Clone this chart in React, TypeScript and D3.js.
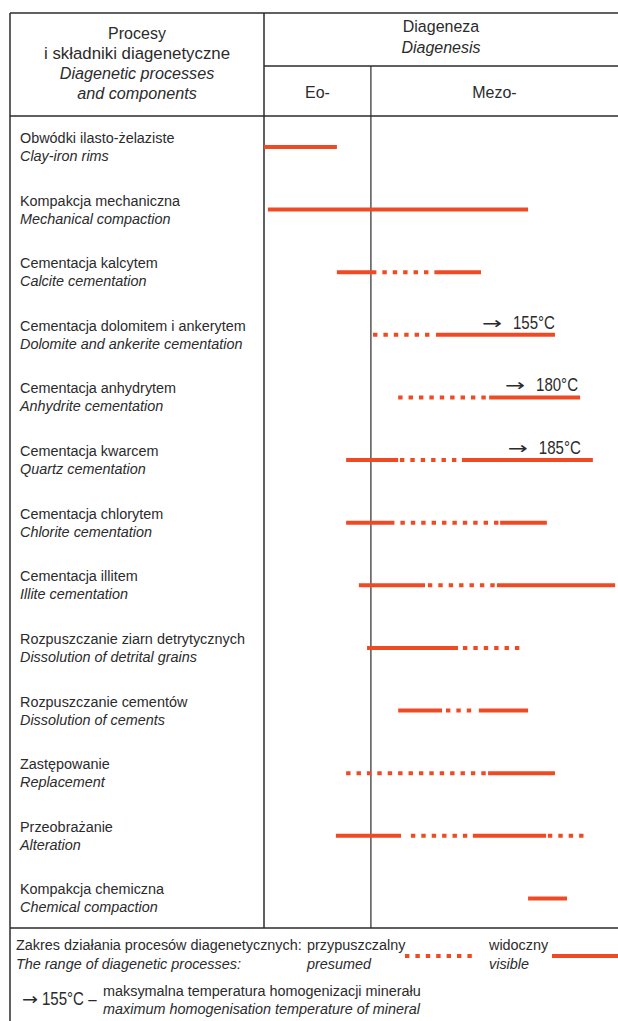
import React from "react";
import * as d3 from "d3";

const labelsPl = [
  "Obwódki ilasto-żelaziste",
  "Kompakcja mechaniczna",
  "Cementacja kalcytem",
  "Cementacja dolomitem i ankerytem",
  "Cementacja anhydrytem",
  "Cementacja kwarcem",
  "Cementacja chlorytem",
  "Cementacja illitem",
  "Rozpuszczanie ziarn detrytycznych",
  "Rozpuszczanie cementów",
  "Zastępowanie",
  "Przeobrażanie",
  "Kompakcja chemiczna",
];
const labelsEn = [
  "Clay-iron rims",
  "Mechanical compaction",
  "Calcite cementation",
  "Dolomite and ankerite cementation",
  "Anhydrite cementation",
  "Quartz cementation",
  "Chlorite cementation",
  "Illite cementation",
  "Dissolution of detrital grains",
  "Dissolution of cements",
  "Replacement",
  "Alteration",
  "Chemical compaction",
];
// segments: [start, end, type] in % of diagenesis span; s = visible, p = presumed
type Seg = [number, number, "s" | "p"];
const segments: Seg[][] = [
  [[0, 20.6, "s"]],
  [[1.1, 74.6, "s"]],
  [[20.6, 30.5, "s"], [30.5, 48.6, "p"], [48.6, 61.3, "s"]],
  [[30.8, 47.5, "p"], [48.6, 82.2, "s"]],
  [[37.9, 63.0, "p"], [63.6, 89.3, "s"]],
  [[23.2, 37.9, "s"], [38.4, 54.8, "p"], [55.9, 92.9, "s"]],
  [[23.2, 35.6, "s"], [35.6, 66.7, "p"], [66.7, 79.9, "s"]],
  [[26.8, 45.5, "s"], [46.3, 65.3, "p"], [65.8, 99.2, "s"]],
  [[29.1, 54.8, "s"], [56.2, 72.6, "p"]],
  [[37.9, 50.3, "s"], [51.4, 59.9, "p"], [60.7, 74.6, "s"]],
  [[23.2, 63.3, "p"], [63.3, 82.2, "s"]],
  [[20.3, 38.7, "s"], [41.5, 59.0, "p"], [59.0, 79.7, "s"], [80.2, 91.5, "p"]],
  [[74.6, 85.6, "s"]],
];
const tempRows = [3, 4, 5];
const tempLabels = ["155°C", "180°C", "185°C"];
const tempEnds = [82.2, 88.7, 89.5];
const eoMezoBoundary = 30.2;

const RED = "#f04a24";
const INK = "#2b2b2b";
const FONT = "'Liberation Sans', Arial, sans-serif";
const SX = 0.93;

function T(props: {
  x: number;
  y: number;
  size: number;
  italic?: boolean;
  anchor?: "start" | "middle" | "end";
  sx?: number;
  children: React.ReactNode;
  family?: string;
}) {
  const sx = props.sx ?? SX;
  return (
    <text
      transform={`translate(${props.x},${props.y}) scale(${sx},1)`}
      fontSize={props.size}
      fontStyle={props.italic ? "italic" : "normal"}
      textAnchor={props.anchor ?? "start"}
      fill={INK}
      fontFamily={props.family ?? FONT}
    >
      {props.children}
    </text>
  );
}

function Arrow(props: { x: number; y: number; w: number }) {
  // long thin arrow as a text glyph, stretched to the wanted width
  const glyphW = 0.838 * 17;
  return (
    <text
      transform={`translate(${props.x},${props.y}) scale(${props.w / glyphW},1)`}
      fontSize={17}
      fill={INK}
      fontFamily="'DejaVu Sans', sans-serif"
    >
      →
    </text>
  );
}

export default function App() {
  const W = 618;
  const H = 1021;
  const left = 10;
  const colX = 264;
  const top = 13;
  const headMid = 66;
  const headBot = 116;
  const bodyBot = 928;

  const x = d3.scaleLinear().domain([0, 100]).range([colX, 618]);
  const y = d3
    .scaleBand<number>()
    .domain(d3.range(labelsPl.length))
    .range([headBot, bodyBot + 2])
    .paddingInner(0);
  const rowY = (i: number) => (y(i) as number) + 31;
  const midX = x(eoMezoBoundary);

  const fs = 15.5;
  const hs = 16.5;
  return (
    <svg
      width={W}
      height={H}
      style={{ position: "absolute", left: 0, top: 0, background: "#fff" }}
      fontFamily={FONT}
    >
      <rect x={0} y={0} width={W} height={H} fill="#fff" />
      {/* frame */}
      <g stroke={INK} strokeWidth={1.5} fill="none">
        <line x1={left} x2={W} y1={top} y2={top} />
        <line x1={left} x2={left} y1={top} y2={H} />
        <line x1={colX} x2={W} y1={headMid} y2={headMid} />
        <line x1={left} x2={W} y1={headBot} y2={headBot} />
        <line x1={left} x2={W} y1={bodyBot} y2={bodyBot} />
        <line x1={colX} x2={colX} y1={top} y2={bodyBot} />
        <line x1={midX} x2={midX} y1={headMid} y2={bodyBot} strokeWidth={1.2} />
      </g>
      {/* header */}
      <T x={(left + colX) / 2} y={39} size={hs} anchor="middle" sx={0.97}>Procesy</T>
      <T x={(left + colX) / 2} y={59} size={hs} anchor="middle" sx={1.02}>i składniki diagenetyczne</T>
      <T x={(left + colX) / 2} y={79} size={hs} anchor="middle" sx={0.98} italic>Diagenetic processes</T>
      <T x={(left + colX) / 2} y={99} size={hs} anchor="middle" sx={0.98} italic>and components</T>
      <T x={(colX + W) / 2} y={32} size={hs} anchor="middle" sx={0.97}>Diageneza</T>
      <T x={(colX + W) / 2} y={53} size={hs} anchor="middle" sx={0.97} italic>Diagenesis</T>
      <T x={(colX + midX) / 2} y={98} size={hs} anchor="middle" sx={0.97}>Eo-</T>
      <T x={(midX + W) / 2} y={98} size={hs} anchor="middle" sx={0.97}>Mezo-</T>
      {/* rows */}
      {labelsPl.map((l, i) => (
        <g key={i}>
          <T x={20} y={rowY(i) - 4} size={fs}>{l}</T>
          <T x={20} y={rowY(i) + 14} size={fs} italic>{labelsEn[i]}</T>
          {segments[i].map((s, j) => (
            <line
              key={j}
              x1={x(s[0])}
              x2={x(s[1])}
              y1={rowY(i)}
              y2={rowY(i)}
              stroke={RED}
              strokeWidth={4}
              strokeDasharray={s[2] === "p" ? "4.4 6" : undefined}
            />
          ))}
        </g>
      ))}
      {tempRows.map((r, k) => (
        <g key={k}>
          <T x={x(tempEnds[k])} y={rowY(r) - 6} size={17.5} anchor="end" sx={0.86}>
            {tempLabels[k]}
          </T>
          <Arrow x={x(tempEnds[k]) - 73} y={rowY(r) - 6} w={20} />
        </g>
      ))}
      {/* legend */}
      <T x={16} y={950} size={fs}>Zakres działania procesów diagenetycznych:</T>
      <T x={16} y={969} size={fs} italic>The range of diagenetic processes:</T>
      <T x={307} y={950} size={fs}>przypuszczalny</T>
      <T x={307} y={969} size={fs} italic>presumed</T>
      <T x={489} y={950} size={fs}>widoczny</T>
      <T x={489} y={969} size={fs} italic>visible</T>
      <Arrow x={22} y={1005} w={16} />
      <T x={42} y={1005} size={17.5} sx={0.86}>{"155°C –"}</T>
      <T x={103} y={996} size={fs}>maksymalna temperatura homogenizacji minerału</T>
      <T x={103} y={1014} size={fs} italic>maximum homogenisation temperature of mineral</T>
      <line x1={405} x2={472} y1={956} y2={956} stroke={RED} strokeWidth={4} strokeDasharray="4.4 6" />
      <line x1={552} x2={618} y1={956} y2={956} stroke={RED} strokeWidth={4} />
    </svg>
  );
}
